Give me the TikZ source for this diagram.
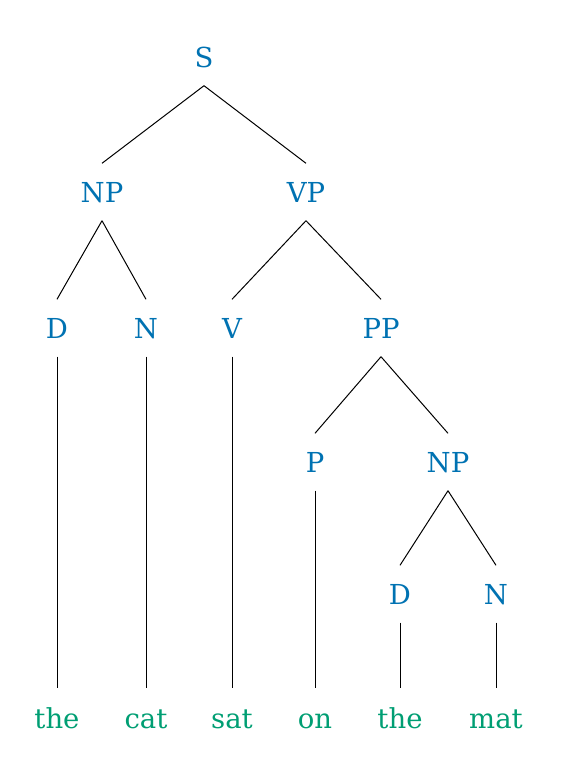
\documentclass[tikz,border=0pt]{standalone}
\usepackage{fontspec}
\setmainfont{DejaVu Serif}
\definecolor{catblue}{HTML}{0072B2}
\definecolor{wordgreen}{HTML}{009E73}
\begin{document}
\begin{tikzpicture}[x=1pt,y=-1pt,
  lab/.style={inner sep=0pt,minimum height=57pt,text height=20pt,text depth=0pt,
    font=\fontsize{27.5}{32}\selectfont},
  cat/.style={lab,text=catblue},
  word/.style={lab,minimum height=60pt,text=wordgreen},
  edge/.style={draw=black,line width=1pt}]
\useasboundingbox (0,0) rectangle (576,758);
\node[cat] (S) at (204,57) {S};
\node[cat] (NP) at (102,192) {NP};
\node[cat] (VP) at (306,192) {VP};
\node[cat] (D) at (57,328) {D};
\node[cat] (N) at (146,328) {N};
\node[cat] (V) at (232,328) {V};
\node[cat] (PP) at (381,328) {PP};
\node[cat] (P) at (315,462) {P};
\node[cat] (NPb) at (448,462) {NP};
\node[cat] (Db) at (400,594) {D};
\node[cat] (Nb) at (496,594) {N};
\node[word] (w1) at (57,718) {the};
\node[word] (w2) at (146,718) {cat};
\node[word] (w3) at (232,718) {sat};
\node[word] (w4) at (315,718) {on};
\node[word] (w5) at (400,718) {the};
\node[word] (w6) at (496,718) {mat};
\draw[edge] (S.south) -- (NP.north);
\draw[edge] (S.south) -- (VP.north);
\draw[edge] (NP.south) -- (D.north);
\draw[edge] (NP.south) -- (N.north);
\draw[edge] (VP.south) -- (V.north);
\draw[edge] (VP.south) -- (PP.north);
\draw[edge] (PP.south) -- (P.north);
\draw[edge] (PP.south) -- (NPb.north);
\draw[edge] (NPb.south) -- (Db.north);
\draw[edge] (NPb.south) -- (Nb.north);
\draw[edge] (D.south) -- (w1.north);
\draw[edge] (N.south) -- (w2.north);
\draw[edge] (V.south) -- (w3.north);
\draw[edge] (P.south) -- (w4.north);
\draw[edge] (Db.south) -- (w5.north);
\draw[edge] (Nb.south) -- (w6.north);
\end{tikzpicture}
\end{document}
